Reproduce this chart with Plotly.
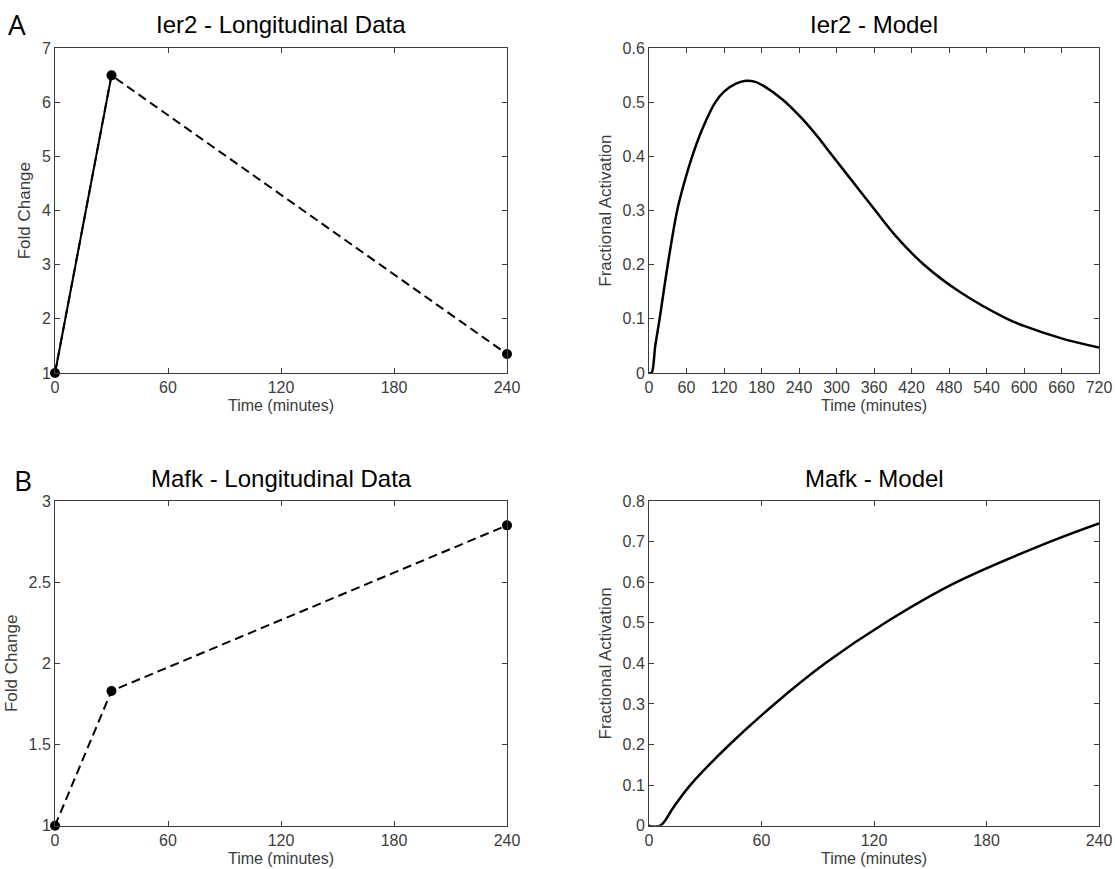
import plotly.graph_objects as go

# ---- data -------------------------------------------------------------
# Ier2 longitudinal measurements (fold change vs. time)
ier2_time = [0, 30, 240]
ier2_fold = [1.0, 6.5, 1.35]

# Mafk longitudinal measurements
mafk_time = [0, 30, 240]
mafk_fold = [1.0, 1.83, 2.85]

# Ier2 model trajectory (fractional activation)
ier2_model_t = [0, 4, 10, 17, 30, 45, 56, 69, 85, 106, 120, 140, 155, 170, 184,
                214, 245, 271, 291, 325, 359, 395, 440, 497, 573, 600, 660, 720]
ier2_model_y = [0, 0, 0.05, 0.10, 0.20, 0.30, 0.35, 0.40, 0.45, 0.50, 0.52, 0.535, 0.54,
                0.538, 0.53, 0.505, 0.47, 0.435, 0.405, 0.355, 0.305, 0.253, 0.20, 0.15,
                0.10, 0.087, 0.064, 0.047]

# Mafk model trajectory
mafk_model_t = [0, 6, 13, 22, 43, 67, 94, 126, 164, 214, 240]
mafk_model_y = [0, 0, 0.045, 0.10, 0.20, 0.30, 0.40, 0.50, 0.60, 0.70, 0.745]

# axis ticks
data_xticks = [0, 60, 120, 180, 240]
model_long_xticks = [0, 60, 120, 180, 240, 300, 360, 420, 480, 540, 600, 660, 720]

# ---- figure -----------------------------------------------------------
W, H = 1115, 869
FONT = "Liberation Sans, Arial, Helvetica, sans-serif"
GREY = "#3c3c3c"


def px_x(p):
    return p / W


def px_y(p):
    return 1 - p / H


fig = go.Figure()

# panel A, left: measured data (first segment solid, whole series dashed)
fig.add_trace(go.Scatter(x=ier2_time[:2], y=ier2_fold[:2], mode="lines",
                         line=dict(color="black", width=2),
                         xaxis="x", yaxis="y", showlegend=False))
fig.add_trace(go.Scatter(x=ier2_time, y=ier2_fold, mode="lines+markers",
                         line=dict(color="black", width=2, dash="9px,5px"),
                         marker=dict(color="black", size=10),
                         xaxis="x", yaxis="y", showlegend=False, cliponaxis=False))
# panel A, right: model
fig.add_trace(go.Scatter(x=ier2_model_t, y=ier2_model_y, mode="lines",
                         line=dict(color="black", width=2.5, shape="spline", smoothing=1.0),
                         xaxis="x2", yaxis="y2", showlegend=False))
# panel B, left: measured data
fig.add_trace(go.Scatter(x=mafk_time, y=mafk_fold, mode="lines+markers",
                         line=dict(color="black", width=2, dash="9px,5px"),
                         marker=dict(color="black", size=10),
                         xaxis="x3", yaxis="y3", showlegend=False, cliponaxis=False))
# panel B, right: model
fig.add_trace(go.Scatter(x=mafk_model_t, y=mafk_model_y, mode="lines",
                         line=dict(color="black", width=2.5, shape="spline", smoothing=1.0),
                         xaxis="x4", yaxis="y4", showlegend=False))

left_dom = [px_x(55), px_x(507)]
right_dom = [px_x(649), px_x(1099)]
top_dom = [px_y(373), px_y(48.3)]
bot_dom = [px_y(825.7), px_y(501)]

common = dict(showline=True, linecolor=GREY, linewidth=1, mirror="ticks",
              ticks="inside", ticklen=5, tickwidth=1, tickcolor=GREY,
              showgrid=False, zeroline=False, automargin=False,
              tickfont=dict(family=FONT, size=16, color=GREY))

xtitle = dict(text="Time (minutes)", font=dict(family=FONT, size=16, color=GREY), standoff=4)


def ytitle(t):
    return dict(text=t, font=dict(family=FONT, size=17, color=GREY), standoff=6)


fig.update_layout(
    width=W, height=H,
    margin=dict(l=0, r=0, t=0, b=0, autoexpand=False),
    paper_bgcolor="white", plot_bgcolor="white",
    xaxis=dict(domain=left_dom, anchor="y", range=[0, 240], tickvals=data_xticks,
               title=xtitle, **common),
    yaxis=dict(domain=top_dom, anchor="x", range=[1, 7], dtick=1,
               title=ytitle("Fold Change"), **common),
    xaxis2=dict(domain=right_dom, anchor="y2", range=[0, 720], tickvals=model_long_xticks,
                title=xtitle, **common),
    yaxis2=dict(domain=top_dom, anchor="x2", range=[0, 0.6], dtick=0.1,
                title=ytitle("Fractional Activation"), **common),
    xaxis3=dict(domain=left_dom, anchor="y3", range=[0, 240], tickvals=data_xticks,
                title=xtitle, **common),
    yaxis3=dict(domain=bot_dom, anchor="x3", range=[1, 3], dtick=0.5,
                title=ytitle("Fold Change"), **common),
    xaxis4=dict(domain=right_dom, anchor="y4", range=[0, 240], tickvals=data_xticks,
                title=xtitle, **common),
    yaxis4=dict(domain=bot_dom, anchor="x4", range=[0, 0.8], dtick=0.1,
                title=ytitle("Fractional Activation"), **common),
)

titles = [
    ("Ier2 - Longitudinal Data", (55 + 507) / 2, 24.5),
    ("Ier2 - Model", (649 + 1099) / 2, 24.5),
    ("Mafk - Longitudinal Data", (55 + 507) / 2, 478.5),
    ("Mafk - Model", (649 + 1099) / 2, 478.5),
]
for text, cx, cy in titles:
    fig.add_annotation(text=text, x=px_x(cx), y=px_y(cy), xref="paper", yref="paper",
                       xanchor="center", yanchor="middle", showarrow=False,
                       font=dict(family=FONT, size=24, color="black"))

for letter, lx, cy in [("A", 6, 23.5), ("B", 12, 480)]:
    fig.add_annotation(text=letter, x=px_x(lx), y=px_y(cy), xref="paper", yref="paper",
                       xanchor="left", yanchor="middle", showarrow=False,
                       font=dict(family="Open Sans, Liberation Sans, sans-serif", size=28,
                                 color="black"))

fig.write_html("out.html")
